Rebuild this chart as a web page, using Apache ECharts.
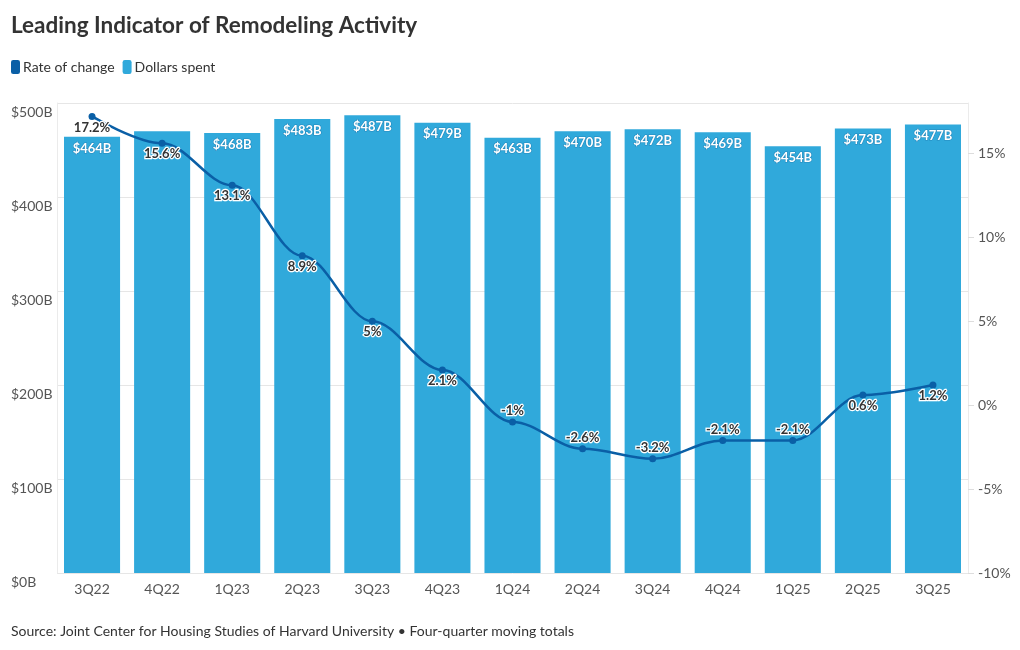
<!DOCTYPE html>
<html><head><meta charset="utf-8">
<script src="https://cdn.jsdelivr.net/npm/echarts@6/dist/echarts.min.js"></script>
<style>html,body{margin:0;padding:0;background:#fff}#c{width:1020px;height:650px}</style>
</head><body><div id="c"></div>
<script>
const categories = ['3Q22','4Q22','1Q23','2Q23','3Q23','4Q23','1Q24','2Q24','3Q24','4Q24','1Q25','2Q25','3Q25'];
const dollarsSpent = [464, 470, 468, 483, 487, 479, 463, 470, 472, 469, 454, 473, 477];
const rateOfChange = [17.2, 15.6, 13.1, 8.9, 5, 2.1, -1, -2.6, -3.2, -2.1, -2.1, 0.6, 1.2];
const hiddenBarLabels = ['4Q22'];
const leftTicks = [0, 100, 200, 300, 400, 500];
const rightTicks = [-10, -5, 0, 5, 10, 15];

const FONT = 'Lato, "Open Sans", sans-serif';
const chart = echarts.init(document.getElementById('c'), null, {renderer: 'canvas'});
chart.setOption({
  animation: false,
  textStyle: {fontFamily: FONT},
  title: {
    text: 'Leading Indicator of Remodeling Activity',
    left: 6, top: 9,
    textStyle: {fontFamily: FONT, fontSize: 22.5, fontWeight: 'bold', color: '#333'}
  },
  legend: {
    left: 6, top: 55,
    icon: 'roundRect', itemWidth: 9, itemHeight: 14, itemGap: 8,
    textStyle: {fontFamily: FONT, fontSize: 14, color: '#333', padding: [0,0,0,-2]},
    data: ['Rate of change', 'Dollars spent']
  },
  graphic: [{
    type: 'text', left: 11, top: 624,
    style: {text: 'Source: Joint Center for Housing Studies of Harvard University \u2022 Four-quarter moving totals',
      font: '14px ' + FONT, fill: '#333'}
  }],
  grid: {left: 57, right: 52, top: 103, bottom: 77},
  xAxis: {
    type: 'category', data: categories,
    axisLine: {show: false}, axisTick: {show: false},
    axisLabel: {fontFamily: FONT, fontSize: 14, color: '#555', margin: 9}
  },
  yAxis: [{
    type: 'value', min: leftTicks[0], max: leftTicks[leftTicks.length-1], interval: 100,
    axisLine: {show: true, lineStyle: {color: '#ebebeb'}},
    axisTick: {show: false},
    splitLine: {lineStyle: {color: '#e6e6e6'}},
    axisLabel: {fontFamily: FONT, fontSize: 14, color: '#555', align: 'left', margin: 46,
      verticalAlign: 'top', padding: [2,0,0,0], formatter: v => '$' + v + 'B'}
  }, {
    type: 'value', min: rightTicks[0], max: 18, interval: 5,
    axisLine: {show: true, lineStyle: {color: '#ebebeb'}},
    axisTick: {show: true, length: 6, lineStyle: {color: '#ddd'}},
    splitLine: {show: false},
    axisLabel: {fontFamily: FONT, fontSize: 14, color: '#555', margin: 10, showMaxLabel: false,
      formatter: v => (rightTicks.indexOf(v) >= 0 ? v + '%' : '')}
  }],
  series: [{
    name: 'Dollars spent', type: 'bar', yAxisIndex: 0,
    barCategoryGap: '20%',
    itemStyle: {color: '#30a9db'},
    data: dollarsSpent.map((v, i) => ({value: v, label: {show: hiddenBarLabels.indexOf(categories[i]) < 0}})),
    label: {show: true, position: 'insideTop', distance: 5, formatter: p => '$' + p.value + 'B',
      fontFamily: FONT, fontSize: 13, fontWeight: 'bold', color: '#fff',
      textBorderColor: '#2589bd', textBorderWidth: 1.2}
  }, {
    name: 'Rate of change', type: 'line', yAxisIndex: 1,
    smooth: 0.35, smoothMonotone: 'x',
    symbol: 'circle', symbolSize: 7,
    lineStyle: {color: '#0a5fa6', width: 2.5},
    itemStyle: {color: '#0a5fa6'},
    z: 5,
    data: rateOfChange.map(v => ({value: v, label: {position: v >= 0 ? 'bottom' : 'top'}})),
    label: {show: true, distance: 1, formatter: p => p.value + '%',
      fontFamily: FONT, fontSize: 13, fontWeight: 'bold', color: '#333',
      textBorderColor: '#fff', textBorderWidth: 2.5}
  }]
});
</script></body></html>
